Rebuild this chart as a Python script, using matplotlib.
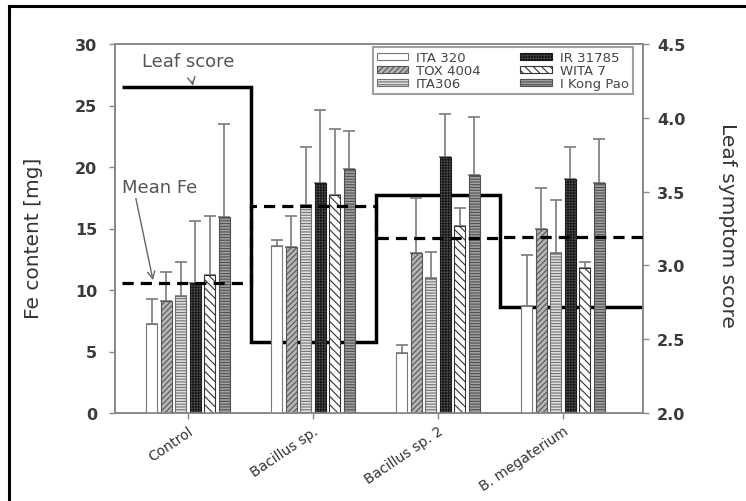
import matplotlib

matplotlib.use("Agg")

import matplotlib.pyplot as plt
import numpy as np
from matplotlib.lines import Line2D
from matplotlib.transforms import ScaledTranslation

# data
categories = ["Control", "Bacillus sp.", "Bacillus sp. 2", "B. megaterium"]
cultivars = ["ITA 320", "TOX 4004", "ITA306", "IR 31785", "WITA 7", "I Kong Pao"]

ita320 = [7.2, 13.6, 4.9, 8.7]
tox4004 = [9.1, 13.5, 13.0, 15.0]
ita306 = [9.5, 16.9, 11.0, 13.0]
ir31785 = [10.6, 18.7, 20.8, 19.0]
wita7 = [11.2, 17.7, 15.2, 11.75]
kongpao = [15.9, 19.8, 19.35, 18.7]

ita320_err = [2.1, 0.5, 0.6, 4.15]
tox4004_err = [2.4, 2.5, 4.45, 3.3]
ita306_err = [2.75, 4.7, 2.1, 4.3]
ir31785_err = [5.0, 5.9, 3.5, 2.65]
wita7_err = [4.8, 5.4, 1.5, 0.55]
kongpao_err = [7.6, 3.15, 4.75, 3.6]

fe_mean = [10.6, 16.8, 14.2, 14.3]
leaf_score = [4.21, 2.48, 3.48, 2.72]

values = [ita320, tox4004, ita306, ir31785, wita7, kongpao]
errors = [ita320_err, tox4004_err, ita306_err, ir31785_err, wita7_err, kongpao_err]

# fill, hatch, hatch/edge colour per cultivar
styles = [
    ("white", "", "#777777"),
    ("#b5b5b5", "//////", "#555555"),
    ("#e0e0e0", "------", "#707070"),
    ("#555555", "++++++", "#1a1a1a"),
    ("white", "\\\\\\\\", "#333333"),
    ("#a0a0a0", "------", "#505050"),
]

plt.rcParams["hatch.linewidth"] = 0.8

fig = plt.figure(figsize=(7.46, 5.02), dpi=100)
ax = fig.add_axes([115 / 746, 1 - 414 / 502, 528 / 746, 369 / 502])
ax2 = ax.twinx()

x = np.arange(len(categories))
step = 0.116
width = 0.088
for i, (vals, errs, (fc, hatch, ec)) in enumerate(zip(values, errors, styles)):
    pos = x + (i - 2.5) * step
    ax.errorbar(pos, vals, yerr=[np.zeros(len(vals)), errs], fmt="none",
                ecolor="#7a7a7a", elinewidth=1.2, capsize=4, capthick=1.2, zorder=1)
    ax.bar(pos, vals, width, color=fc, hatch=hatch, edgecolor=ec,
           linewidth=0.8, label=cultivars[i], zorder=2)

edges = [-0.53, 0.5, 1.5, 2.5, 3.64]
ax.stairs(fe_mean, edges, baseline=None, color="black", linewidth=2.3,
          linestyle=(0, (3.5, 2.2)), zorder=4)
ax2.stairs(leaf_score, edges, baseline=None, color="black", linewidth=2.5, zorder=4)

ax.set_xlim(-0.584, 3.64)
ax.set_ylim(0, 30)
ax2.set_ylim(2.0, 4.5)
ax.set_yticks(range(0, 31, 5))
ax2.set_yticks(np.arange(2.0, 4.51, 0.5))
ax2.set_yticklabels([f"{v:.1f}" for v in np.arange(2.0, 4.51, 0.5)])

ax.set_xticks(x)
ax.set_xticklabels(categories, rotation=34, ha="right", va="top",
                   rotation_mode="anchor", fontsize=10, color="#333333")
offset = ScaledTranslation(12 / 100, -8 / 100, fig.dpi_scale_trans)
for lab in ax.get_xticklabels():
    lab.set_transform(lab.get_transform() + offset)

for a in (ax, ax2):
    for s in a.spines.values():
        s.set_color("#888888")
        s.set_linewidth(1.2)
    a.tick_params(direction="out", length=4, width=1.0, color="#888888")

ax.tick_params(axis="y", pad=9, labelsize=11.5, labelcolor="#3a3a3a")
ax2.tick_params(axis="y", pad=6, labelsize=11.5, labelcolor="#3a3a3a")
for lab in ax.get_yticklabels() + ax2.get_yticklabels():
    lab.set_fontweight("bold")

ax.set_ylabel("Fe content [mg]", fontsize=14.5, color="#333333", va="center")
ax.yaxis.set_label_coords((34 - 115) / 528, (414 - 238) / 369)
ax2.set_ylabel("Leaf symptom score", fontsize=14.5, color="#333333",
               rotation=270, va="center")
ax2.yaxis.set_label_coords((727 - 115) / 528, (414 - 225) / 369)

ax.annotate("Leaf score", xy=(0.04, 26.6), xytext=(0.0, 28.6),
            ha="center", va="center", fontsize=13, color="#555555",
            arrowprops=dict(arrowstyle="->", color="#666666", lw=1.0,
                            shrinkA=6, shrinkB=0))
ax.annotate("Mean Fe", xy=(-0.28, 10.8), xytext=(-0.53, 18.4),
            ha="left", va="center", fontsize=13, color="#555555",
            arrowprops=dict(arrowstyle="->", color="#666666", lw=1.0,
                            shrinkA=0, shrinkB=0, relpos=(0.18, 0.0)))

ax.set_zorder(ax2.get_zorder() + 1)
ax.patch.set_visible(False)
ax2.patch.set_visible(False)

leg = ax.legend(ncol=2, loc="upper right", bbox_to_anchor=(0.981, 0.992),
                fontsize=9.5, frameon=True, fancybox=False, labelspacing=0.0,
                handlelength=2.4, handleheight=0.4, handletextpad=0.6,
                columnspacing=3.0, borderpad=0.3, borderaxespad=0)
leg.get_frame().set_edgecolor("#888888")
leg.get_frame().set_linewidth(1.5)
for t in leg.get_texts():
    t.set_color("#444444")

# outer frame (top and left visible)
fig.add_artist(Line2D([9 / 746, 9 / 746], [0, 1 - 7 / 502], color="black",
                      linewidth=2.2, transform=fig.transFigure))
fig.add_artist(Line2D([9 / 746, 1], [1 - 7 / 502, 1 - 7 / 502], color="black",
                      linewidth=2.2, transform=fig.transFigure))

fig.savefig("out.png", dpi=100)
